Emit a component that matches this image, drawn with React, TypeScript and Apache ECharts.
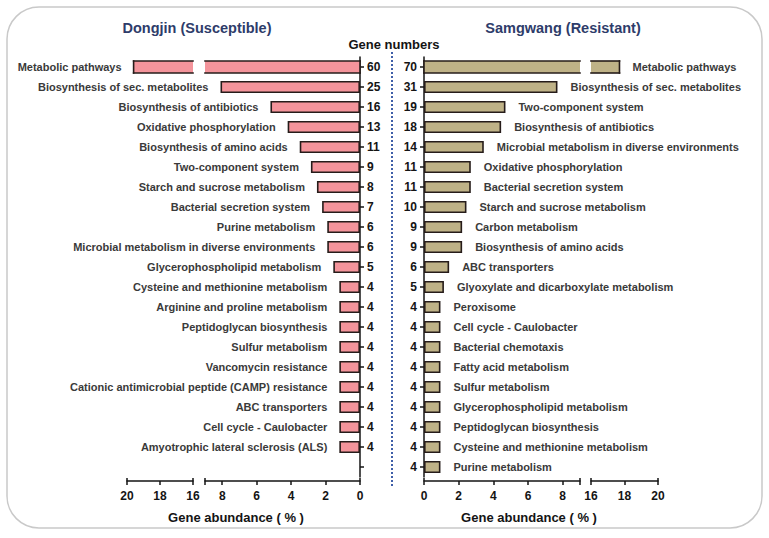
import React, { useEffect, useRef } from 'react';
import * as echarts from 'echarts';

// ---------- data ----------
const leftCategories = [
  'Metabolic pathways',
  'Biosynthesis of sec. metabolites',
  'Biosynthesis of antibiotics',
  'Oxidative phosphorylation',
  'Biosynthesis of amino acids',
  'Two-component system',
  'Starch and sucrose metabolism',
  'Bacterial secretion system',
  'Purine metabolism',
  'Microbial metabolism in diverse environments',
  'Glycerophospholipid metabolism',
  'Cysteine and methionine metabolism',
  'Arginine and proline metabolism',
  'Peptidoglycan biosynthesis',
  'Sulfur metabolism',
  'Vancomycin resistance',
  'Cationic antimicrobial peptide (CAMP) resistance',
  'ABC transporters',
  'Cell cycle - Caulobacter',
  'Amyotrophic lateral sclerosis (ALS)',
  '',
];
const leftGeneNumbers = ['60', '25', '16', '13', '11', '9', '8', '7', '6', '6', '5', '4', '4', '4', '4', '4', '4', '4', '4', '4', ''];
const leftAbundance: (number | null)[] = [
  19.6, 8.1, 5.2, 4.2, 3.5, 2.85, 2.5, 2.2, 1.9, 1.9, 1.55, 1.2, 1.2, 1.2, 1.2, 1.2, 1.2, 1.2, 1.2, 1.2, null,
];

const rightCategories = [
  'Metabolic pathways',
  'Biosynthesis of sec. metabolites',
  'Two-component system',
  'Biosynthesis of antibiotics',
  'Microbial metabolism in diverse environments',
  'Oxidative phosphorylation',
  'Bacterial secretion system',
  'Starch and sucrose metabolism',
  'Carbon metabolism',
  'Biosynthesis of amino acids',
  'ABC transporters',
  'Glyoxylate and dicarboxylate metabolism',
  'Peroxisome',
  'Cell cycle - Caulobacter',
  'Bacterial chemotaxis',
  'Fatty acid metabolism',
  'Sulfur metabolism',
  'Glycerophospholipid metabolism',
  'Peptidoglycan biosynthesis',
  'Cysteine and methionine metabolism',
  'Purine metabolism',
];
const rightGeneNumbers = ['70', '31', '19', '18', '14', '11', '11', '10', '9', '9', '6', '5', '4', '4', '4', '4', '4', '4', '4', '4', '4'];
const rightAbundance: (number | null)[] = [
  17.7, 7.7, 4.7, 4.45, 3.45, 2.7, 2.7, 2.45, 2.2, 2.2, 1.45, 1.15, 0.95, 0.95, 0.95, 0.95, 0.95, 0.95, 0.95, 0.95, 0.95,
];

const mainRange = [0, 9];
const breakRange = [16, 20];
const mainTickValues = [0, 2, 4, 6, 8];
const breakTickValues = [16, 18, 20];

// ---------- styles ----------
const FONT = "'Liberation Sans', Arial, Helvetica, sans-serif";
const INK = '#141414';
const LABEL = '#3a3a3a';
const TITLE = '#2E3C6A';
const PINK = '#F4949B';
const KHAKI = '#BFB287';
const BORDER = '#261c1a';
const BW = 1.6;

function brokenRenderer(segMin: number, segMax: number, side: 'left' | 'right', cats: string[], fill: string) {
  return (params: any, api: any) => {
    const v = api.value(0);
    const c = api.value(1);
    const start = Math.max(segMin, 0);
    const end = Math.min(v, segMax);
    if (end <= start) return null;
    const p0 = api.coord([start, c]);
    const p1 = api.coord([end, c]);
    const h = api.size([0, 1])[1] * 0.6;
    const top = p0[1] - h / 2;
    const bot = p0[1] + h / 2;
    const x0 = Math.min(p0[0], p1[0]);
    const w = Math.abs(p1[0] - p0[0]);
    const lineStyle = { stroke: BORDER, lineWidth: BW, lineCap: 'square' };
    const children: any[] = [
      { type: 'rect', shape: { x: x0, y: top, width: w, height: h }, style: { fill } },
      { type: 'line', shape: { x1: p0[0], y1: top, x2: p1[0], y2: top }, style: lineStyle },
      { type: 'line', shape: { x1: p0[0], y1: bot, x2: p1[0], y2: bot }, style: lineStyle },
    ];
    if (segMin <= 0) {
      children.push({ type: 'line', shape: { x1: p0[0], y1: top, x2: p0[0], y2: bot }, style: lineStyle });
    }
    if (v <= segMax) {
      children.push({ type: 'line', shape: { x1: p1[0], y1: top, x2: p1[0], y2: bot }, style: lineStyle });
      const tx = side === 'left' ? p1[0] - 12 : p1[0] + 13;
      children.push({
        type: 'text',
        x: tx,
        y: p0[1],
        style: {
          text: cats[c],
          fill: LABEL,
          font: `bold 11px ${FONT}`,
          align: side === 'left' ? 'right' : 'left',
          verticalAlign: 'middle',
          textAlign: side === 'left' ? 'right' : 'left',
          textVerticalAlign: 'middle',
        },
      });
    }
    return { type: 'group', children };
  };
}

function makeXAxis(grid: number, range: number[], inverse: boolean, labelVals: number[], tickVals: number[]) {
  return {
    type: 'value',
    gridIndex: grid,
    min: range[0],
    max: range[1],
    interval: 2,
    inverse,
    position: 'bottom',
    offset: 4,
    splitLine: { show: false },
    axisLine: { show: true, onZero: false, lineStyle: { color: INK, width: 1.5 } },
    axisTick: { show: true, length: 4, customValues: tickVals, lineStyle: { color: INK, width: 1.5 } },
    axisLabel: {
      show: true,
      customValues: labelVals,
      margin: 9,
      color: INK,
      fontSize: 12,
      fontWeight: 'bold',
      fontFamily: FONT,
    },
  };
}

function makeCapAxis(grid: number, range: number[], inverse: boolean) {
  return {
    type: 'value',
    gridIndex: grid,
    min: range[0],
    max: range[1],
    inverse,
    position: 'bottom',
    offset: 4,
    splitLine: { show: false },
    axisLine: { show: false, onZero: false },
    axisLabel: { show: false },
    axisTick: { show: true, inside: true, length: 3, customValues: range, lineStyle: { color: INK, width: 1.5 } },
  };
}

function makeYAxis(grid: number, cats: string[], numbers: string[], position: 'left' | 'right', show: boolean) {
  return {
    type: 'category',
    gridIndex: grid,
    data: cats,
    inverse: true,
    position,
    show,
    axisLine: { show, lineStyle: { color: INK, width: 1.5 } },
    axisTick: { show, alignWithLabel: true, interval: 0, length: 4, lineStyle: { color: INK, width: 1.5 } },
    axisLabel: {
      show,
      interval: 0,
      margin: 7,
      color: INK,
      fontSize: 12,
      fontWeight: 'bold',
      fontFamily: FONT,
      formatter: (_v: string, i: number) => numbers[i],
    },
    splitLine: { show: false },
  };
}

export default function App() {
  const ref = useRef<HTMLDivElement>(null);

  useEffect(() => {
    if (!ref.current) return;
    const chart = echarts.init(ref.current, null, { renderer: 'svg' });

    const top = 57;
    const height = 420;

    const leftBarData = leftAbundance.map((v) => (v == null || v > mainRange[1] ? '-' : v));
    const rightBarData = rightAbundance.map((v) => (v == null || v > mainRange[1] ? '-' : v));
    const leftBroken = leftAbundance
      .map((v, i) => (v != null && v > mainRange[1] ? [v, i] : null))
      .filter(Boolean);
    const rightBroken = rightAbundance
      .map((v, i) => (v != null && v > mainRange[1] ? [v, i] : null))
      .filter(Boolean);

    const barLabel = (pos: 'left' | 'right', dist: number) => ({
      show: true,
      position: pos,
      distance: dist,
      formatter: '{b}',
      color: LABEL,
      fontSize: 11,
      fontWeight: 'bold',
      fontFamily: FONT,
    });

    const textStyle = (text: string, size: number, color: string) => ({
      text,
      fill: color,
      font: `bold ${size}px ${FONT}`,
      align: 'center',
      verticalAlign: 'middle',
      textAlign: 'center',
      textVerticalAlign: 'middle',
    });

    const option: any = {
      animation: false,
      backgroundColor: '#ffffff',
      grid: [
        { left: 127, width: 66, top, height },
        { left: 205, width: 155, top, height },
        { left: 424, width: 156, top, height },
        { left: 591, width: 67, top, height },
      ],
      xAxis: [
        makeXAxis(0, breakRange, true, breakTickValues, breakTickValues),
        makeXAxis(1, mainRange, true, mainTickValues, [...mainTickValues, mainRange[1]]),
        makeXAxis(2, mainRange, false, mainTickValues, [...mainTickValues, mainRange[1]]),
        makeXAxis(3, breakRange, false, breakTickValues, breakTickValues),
        makeCapAxis(0, breakRange, true),
        makeCapAxis(1, mainRange, true),
        makeCapAxis(2, mainRange, false),
        makeCapAxis(3, breakRange, false),
      ],
      yAxis: [
        makeYAxis(0, leftCategories, leftGeneNumbers, 'right', false),
        makeYAxis(1, leftCategories, leftGeneNumbers, 'right', true),
        makeYAxis(2, rightCategories, rightGeneNumbers, 'left', true),
        makeYAxis(3, rightCategories, rightGeneNumbers, 'left', false),
      ],
      series: [
        {
          type: 'bar',
          xAxisIndex: 1,
          yAxisIndex: 1,
          data: leftBarData,
          barWidth: 12,
          itemStyle: { color: PINK, borderColor: BORDER, borderWidth: BW },
          label: barLabel('left', 12),
        },
        {
          type: 'bar',
          xAxisIndex: 2,
          yAxisIndex: 2,
          data: rightBarData,
          barWidth: 12,
          itemStyle: { color: KHAKI, borderColor: BORDER, borderWidth: BW },
          label: barLabel('right', 13),
        },
        {
          type: 'custom',
          xAxisIndex: 0,
          yAxisIndex: 0,
          data: leftBroken,
          encode: { x: 0, y: 1 },
          renderItem: brokenRenderer(breakRange[0], breakRange[1], 'left', leftCategories, PINK),
        },
        {
          type: 'custom',
          xAxisIndex: 1,
          yAxisIndex: 1,
          data: leftBroken,
          encode: { x: 0, y: 1 },
          renderItem: brokenRenderer(mainRange[0], mainRange[1], 'left', leftCategories, PINK),
        },
        {
          type: 'custom',
          xAxisIndex: 2,
          yAxisIndex: 2,
          data: rightBroken,
          encode: { x: 0, y: 1 },
          renderItem: brokenRenderer(mainRange[0], mainRange[1], 'right', rightCategories, KHAKI),
        },
        {
          type: 'custom',
          xAxisIndex: 3,
          yAxisIndex: 3,
          data: rightBroken,
          encode: { x: 0, y: 1 },
          renderItem: brokenRenderer(breakRange[0], breakRange[1], 'right', rightCategories, KHAKI),
        },
      ],
      graphic: [
        {
          type: 'rect',
          shape: { x: 7, y: 7, width: 755, height: 521, r: 32 },
          style: { fill: 'none', stroke: '#c9c9c9', lineWidth: 1.5 },
          z: -1,
        },
        {
          type: 'line',
          shape: { x1: 392, y1: 52, x2: 392, y2: 486 },
          style: { stroke: '#3F5FA8', lineWidth: 2, lineDash: [2, 2] },
        },
        { type: 'text', x: 197, y: 28, style: textStyle('Dongjin (Susceptible)', 14.5, TITLE) },
        { type: 'text', x: 563, y: 28, style: textStyle('Samgwang (Resistant)', 14.5, TITLE) },
        { type: 'text', x: 394, y: 44, style: textStyle('Gene numbers', 13, INK) },
        { type: 'text', x: 236, y: 517, style: textStyle('Gene abundance ( % )', 13, INK) },
        { type: 'text', x: 529, y: 517, style: textStyle('Gene abundance ( % )', 13, INK) },
      ],
    };

    chart.setOption(option);
    return () => chart.dispose();
  }, []);

  return (
    <div
      ref={ref}
      style={{ position: 'fixed', left: 0, top: 0, width: 769, height: 538, background: '#ffffff' }}
    />
  );
}
